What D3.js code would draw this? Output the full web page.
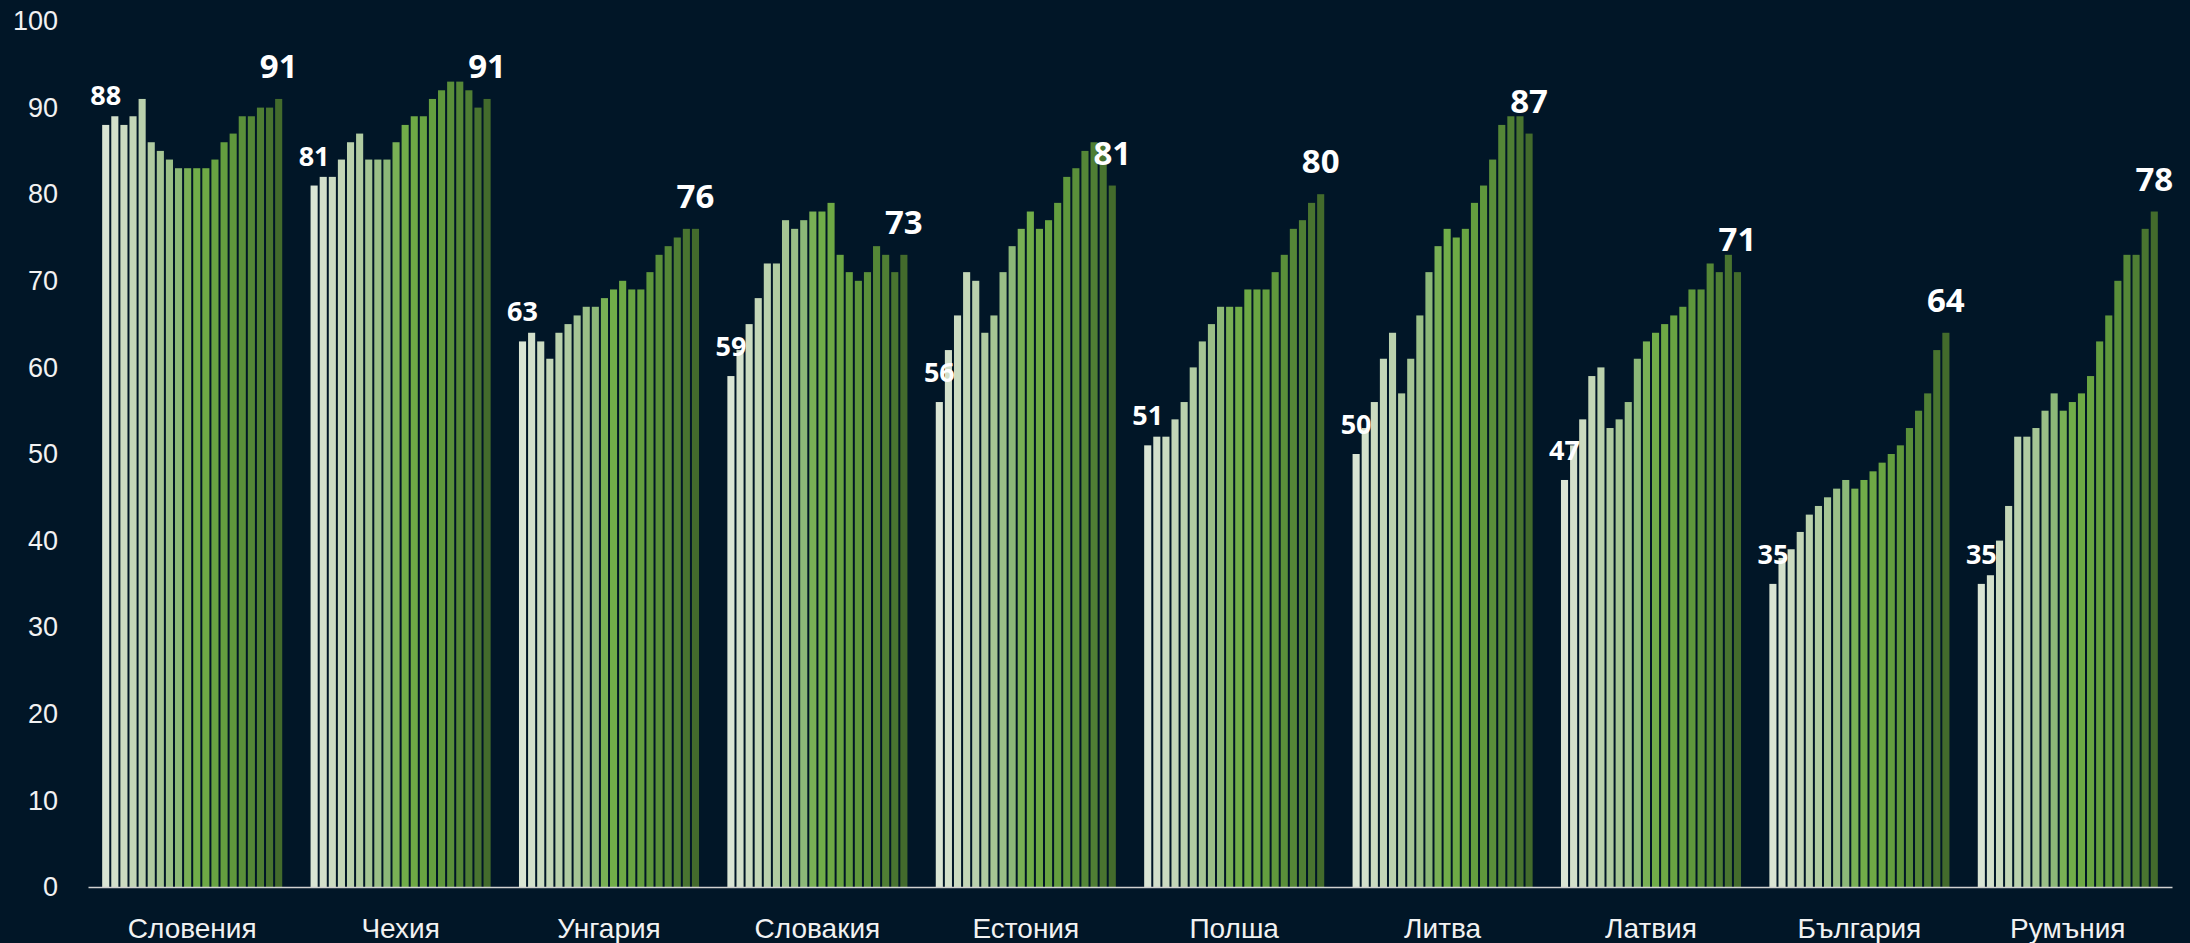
<!DOCTYPE html>
<html>
<head>
<meta charset="utf-8">
<script src="https://cdn.jsdelivr.net/npm/d3@7"></script>
<style>
  html, body { margin: 0; padding: 0; background: #011627; }
  svg { display: block; font-family: "Open Sans", "Noto Sans", sans-serif; }
</style>
</head>
<body>
<svg id="chart"></svg>
<script>
// categories and years
const countries = ["Словения", "Чехия", "Унгария", "Словакия", "Естония", "Полша", "Литва", "Латвия", "България", "Румъния"];
const years = ["2004", "2005", "2006", "2007", "2008", "2009", "2010", "2011", "2012", "2013",
               "2014", "2015", "2016", "2017", "2018", "2019", "2020", "2021", "2022", "2023"];

// series values per country (one value per year)
const slovenia  = [88, 89, 88, 89, 91, 86, 85, 84, 83, 83, 83, 83, 84, 86, 87, 89, 89, 90, 90, 91];
const czechia   = [81, 82, 82, 84, 86, 87, 84, 84, 84, 86, 88, 89, 89, 91, 92, 93, 93, 92, 90, 91];
const hungary   = [63, 64, 63, 61, 64, 65, 66, 67, 67, 68, 69, 70, 69, 69, 71, 73, 74, 75, 76, 76];
const slovakia  = [59, 62, 65, 68, 72, 72, 77, 76, 77, 78, 78, 79, 73, 71, 70, 71, 74, 73, 71, 73];
const estonia   = [56, 62, 66, 71, 70, 64, 66, 71, 74, 76, 78, 76, 77, 79, 82, 83, 85, 86, 86, 81];
const poland    = [51, 52, 52, 54, 56, 60, 63, 65, 67, 67, 67, 69, 69, 69, 71, 73, 76, 77, 79, 80];
const lithuania = [50, 53, 56, 61, 64, 57, 61, 66, 71, 74, 76, 75, 76, 79, 81, 84, 88, 89, 89, 87];
const latvia    = [47, 51, 54, 59, 60, 53, 54, 56, 61, 63, 64, 65, 66, 67, 69, 69, 72, 71, 73, 71];
const bulgaria  = [35, 38, 39, 41, 43, 44, 45, 46, 47, 46, 47, 48, 49, 50, 51, 53, 55, 57, 62, 64];
const romania   = [35, 36, 40, 44, 52, 52, 53, 55, 57, 55, 56, 57, 59, 63, 66, 70, 73, 73, 76, 78];

const yTicks = [0, 10, 20, 30, 40, 50, 60, 70, 80, 90, 100];

const series = [slovenia, czechia, hungary, slovakia, estonia, poland, lithuania, latvia, bulgaria, romania];

// one colour per year, pale to dark green
const yearColors = ["#dae5d4", "#d3e0cb", "#cbdbc1", "#c3d6b7", "#bad1ad", "#b0cba1", "#a5c594", "#9abf87",
                    "#8cb878", "#79b055", "#71ad49", "#6ea945", "#69a442", "#649e3f", "#5f973c", "#5a8f3a",
                    "#558737", "#4f7e34", "#497430", "#436b2c"];

const W = 2190, H = 943;
const svg = d3.select("#chart").attr("width", W).attr("height", H);

const x0 = d3.scaleBand().domain(countries).range([88, 2172]).paddingInner(0.136).paddingOuter(0.068);
const x1 = d3.scaleBand().domain(years).range([0, x0.bandwidth()]).paddingInner(0.22).paddingOuter(0);
const y = d3.scaleLinear().domain([0, 100]).range([887, 21]);
const color = d3.scaleOrdinal().domain(years).range(yearColors);

// y axis labels only
const yAxis = svg.append("g")
  .attr("transform", "translate(88,0)")
  .call(d3.axisLeft(y).tickValues(yTicks).tickSize(0).tickPadding(30));
yAxis.select(".domain").remove();
yAxis.selectAll("text")
  .attr("fill", "#f2f2f2")
  .style("font-size", "27px");

// groups of bars
const groups = svg.selectAll(".country")
  .data(countries)
  .enter()
  .append("g")
  .attr("class", "country")
  .attr("transform", d => `translate(${x0(d)},0)`);

groups.selectAll("rect")
  .data((c, i) => series[i].map((v, j) => ({ year: years[j], value: v })))
  .enter()
  .append("rect")
  .attr("x", d => x1(d.year))
  .attr("width", x1.bandwidth())
  .attr("y", d => y(d.value))
  .attr("height", d => y(0) - y(d.value))
  .attr("fill", d => color(d.year));

// first and last value labels
groups.each(function (c, i) {
  const g = d3.select(this);
  const vals = series[i];
  const first = years[0], last = years[years.length - 1];
  g.append("text")
    .attr("x", x1(first) + x1.bandwidth() / 2)
    .attr("y", y(vals[0]) - 20)
    .attr("text-anchor", "middle")
    .attr("fill", "#ffffff")
    .style("font-size", "27px")
    .style("font-weight", "700")
    .text(vals[0]);
  g.append("text")
    .attr("x", x1(last) + x1.bandwidth() / 2)
    .attr("y", y(vals[vals.length - 1]) - 21)
    .attr("text-anchor", "middle")
    .attr("fill", "#ffffff")
    .style("font-size", "33px")
    .style("font-weight", "700")
    .text(vals[vals.length - 1]);
});

// x axis with country names
const xAxis = svg.append("g")
  .attr("transform", `translate(0,${y(0)})`)
  .call(d3.axisBottom(x0).tickSize(0).tickPadding(31).tickSizeOuter(0));
xAxis.select(".domain")
  .attr("stroke", "#d0d0d0")
  .attr("stroke-width", 1.5);
xAxis.selectAll("text")
  .attr("fill", "#f2f2f2")
  .style("font-size", "28px");
</script>
</body>
</html>
